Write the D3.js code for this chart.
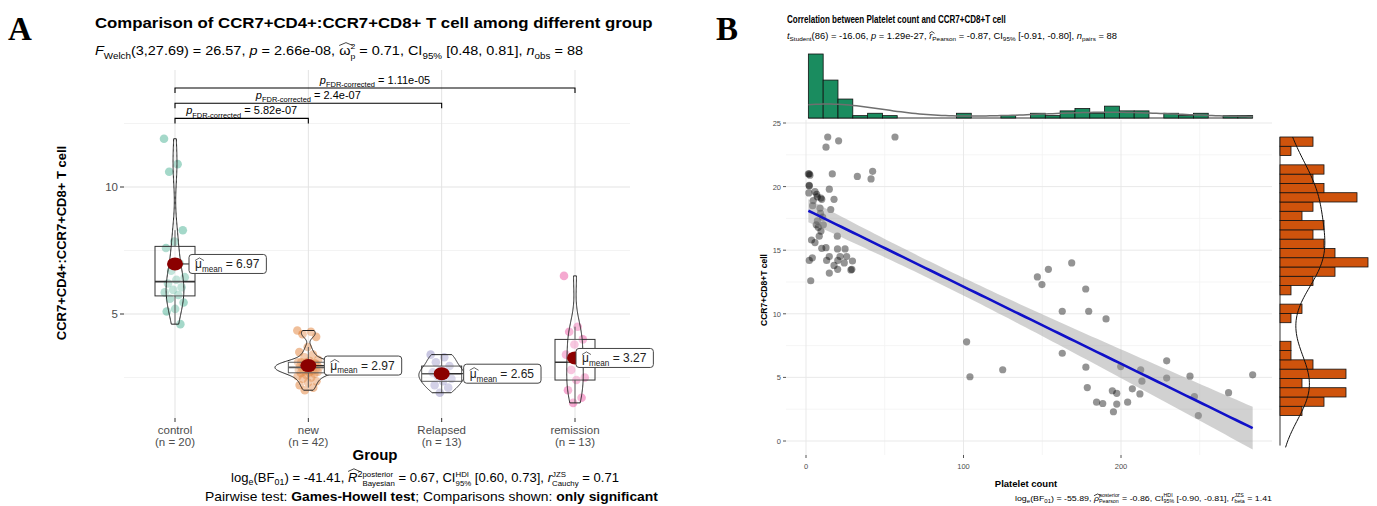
<!DOCTYPE html>
<html>
<head>
<meta charset="utf-8">
<script src="https://d3js.org/d3.v7.min.js"></script>
<style>
  body { margin: 0; background: #fff; }
  svg { display: block; font-family: "Liberation Sans", Arial, sans-serif; }
</style>
</head>
<body>
<svg id="chart"></svg>
<script>
// ---------- panel A: ratio per group ----------
const groups = ["control", "new", "Relapsed", "remission"];
const controlVals = [11.9, 10.9, 10.6, 8.3, 7.85, 7.6, 7.0, 6.7, 6.45, 6.35, 6.2, 6.05, 5.95, 5.85, 5.75, 5.6, 5.45, 5.2, 5.1, 4.6];
const newVals = [4.35, 4.3, 4.2, 4.1, 3.7, 3.5, 3.4, 3.3, 3.2, 3.15, 3.1, 3.06, 3.1, 3.1, 3.05, 3.0, 3.0, 2.98, 2.95, 2.92, 2.9,
  2.9, 2.88, 2.85, 2.82, 2.8, 2.8, 2.78, 2.75, 2.72, 2.7, 2.68, 2.65, 2.6, 2.55, 2.5, 2.45, 2.35, 2.3, 2.2, 2.1, 2.0];
const relapsedVals = [3.4, 3.3, 3.1, 2.95, 2.8, 2.7, 2.65, 2.55, 2.45, 2.35, 2.2, 2.1, 1.9];
const remissionVals = [6.5, 4.5, 4.3, 4.0, 3.8, 3.4, 3.1, 2.8, 2.5, 2.4, 2.0, 1.7, 1.5];
const groupColors = ["#1b9e77", "#d95f02", "#7570b3", "#e7298a"];
const pairwise = [
  { a: "control", b: "new", p: "5.82e-07" },
  { a: "control", b: "Relapsed", p: "2.4e-07" },
  { a: "control", b: "remission", p: "1.11e-05" }
];
const yTicksA = [5, 10];

// ---------- panel B: platelet count vs CCR7+CD8+ T cell ----------
const plateletCount = [13.8, 12.7, 20.7, 56.5, 2.1, 1.5, 2.5, 16.7, 32.6, 42.3, 41.3, 2.1, 2.0, 14.8, 1.8, 5.7, 7.2, 10.0, 4.6, 17.8,
  6.8, 9.5, 8.9, 15.7, 4.2, 10.6, 7.2, 9.2, 11.0, 7.8, 6.5, 9.5, 8.4, 19.9, 5.7, 3.5, 10.0, 12.7, 20.0, 24.8,
  14.8, 21.6, 25.8, 2.1, 13.1, 20.2, 17.8, 24.3, 29.5, 4.0, 29.1, 28.5, 20.1, 14.8, 3.0,
  168.7, 153.9, 146.9, 149.8, 177.6, 162.7, 179.5, 190.5, 102, 162.7, 124.9, 104.1, 177.7, 229, 199.8, 212.5, 213.3,
  229, 243.8, 283.6, 178.6, 194.5, 197.3, 207.2, 212, 184.5, 188.4, 197.3, 204.2, 195.2, 246.6, 268.3, 249.1];
const ccr7cd8 = [23.9, 23.1, 23.6, 23.9, 21.0, 21.0, 20.9, 21.0, 20.8, 21.2, 20.6, 20.05, 20.1, 19.8, 19.5, 19.6, 19.2, 19.0, 18.9, 19.0,
  19.4, 19.1, 18.3, 18.2, 18.5, 17.6, 17.3, 17.9, 17.0, 16.8, 17.0, 16.5, 16.1, 16.1, 15.6, 15.8, 15.15, 15.2, 15.1, 15.1,
  14.5, 14.5, 14.5, 14.2, 14.2, 14.2, 13.8, 14.0, 14.15, 14.4, 13.5, 13.45, 13.5, 13.2, 12.6,
  14.0, 13.5, 12.9, 12.3, 11.95, 10.2, 10.2, 9.6, 7.8, 6.9, 5.6, 5.05, 5.8, 6.3, 5.85, 5.6, 4.7,
  4.95, 5.1, 5.2, 4.2, 3.95, 3.75, 4.1, 3.7, 3.05, 2.95, 2.9, 3.05, 2.3, 3.5, 3.8, 2.0];
const xTicksB = [0, 100, 200];
const yTicksB = [0, 5, 10, 15, 20, 25];

const svg = d3.select("#chart").attr("width", 1377).attr("height", 506);
const grey = "#4d4d4d";

// text with sub/superscripts, drawn piece by piece
const richText = (parent, parts, o) => {
  const size = o.size || 11;
  const g = parent.append("g").attr("fill", o.fill || "#000");
  let cx = 0;
  const piece = (t, x, dyEm, sc, p) => {
    const el = g.append("text").attr("x", x).attr("y", dyEm * size)
      .style("font-size", (size * sc) + "px")
      .style("font-style", p.it ? "italic" : null)
      .style("font-weight", (p.b || o.bold) ? "bold" : null)
      .text(t.replace(/ /g, "\u00a0"));
    return el.node().getComputedTextLength();
  };
  parts.forEach(p => {
    if (typeof p === "string") p = { t: p };
    if (p.stack) {
      const w1 = piece(p.stack[0], cx, -0.45, 0.6, {});
      const w2 = piece(p.stack[1], cx, 0.3, 0.6, {});
      cx += Math.max(w1, w2);
      return;
    }
    const sc = (p.sub || p.sup) ? 0.68 : 1;
    const dy = p.sub ? 0.28 : p.sup ? -0.42 : 0;
    const w = piece(p.t, cx, dy, sc, p);
    if (p.hat) {
      const hy = -size * p.hat;
      g.append("path")
        .attr("d", `M${cx},${hy + size * 0.12}L${cx + w / 2 + 1},${hy - size * 0.1}L${cx + w + 2},${hy + size * 0.12}`)
        .attr("fill", "none").attr("stroke", o.fill || "#000").attr("stroke-width", 0.7);
    }
    cx += w;
  });
  const sx = o.width ? o.width / cx : 1;
  const left = o.anchor === "middle" ? o.x - cx * sx / 2 : o.anchor === "end" ? o.x - cx * sx : o.x;
  g.attr("transform", `translate(${left},${o.y}) scale(${sx},1)`);
  return { g, width: cx * sx };
};

const bandwidth = vals => {
  const s = vals.slice().sort(d3.ascending);
  const iqr = d3.quantile(s, 0.75) - d3.quantile(s, 0.25);
  return 0.9 * Math.min(d3.deviation(s), iqr / 1.34) * Math.pow(s.length, -0.2);
};
const kde = (vals, lo, hi, n) => {
  const bw = bandwidth(vals);
  return d3.range(n + 1).map(k => {
    const v = lo + (hi - lo) * k / n;
    const d = d3.mean(vals, x => Math.exp(-0.5 * ((v - x) / bw) ** 2)) / (bw * Math.sqrt(2 * Math.PI));
    return [v, d];
  });
};

// panel letters
svg.append("text").attr("x", 8).attr("y", 40).text("A")
  .style("font-family", "'Liberation Serif', serif").style("font-weight", "bold").style("font-size", "33px");
svg.append("text").attr("x", 716).attr("y", 40).text("B")
  .style("font-family", "'Liberation Serif', serif").style("font-weight", "bold").style("font-size", "33px");

// =================== PANEL A ===================
const A = svg.append("g");
const panelA = { left: 124, right: 630, top: 70, bottom: 418 };
const xA = d3.scalePoint().domain(groups).range([175, 575]);
const yA = d3.scaleLinear().domain([0, 10]).range([441, 187]);
const groupVals = [controlVals, newVals, relapsedVals, remissionVals];

// grid
[2.5, 7.5, 12.5].forEach(v => A.append("line").attr("x1", panelA.left).attr("x2", panelA.right)
  .attr("y1", yA(v)).attr("y2", yA(v)).attr("stroke", "#f0f0f0").attr("stroke-width", 0.8));
yTicksA.forEach(v => A.append("line").attr("x1", panelA.left).attr("x2", panelA.right)
  .attr("y1", yA(v)).attr("y2", yA(v)).attr("stroke", "#e3e3e3").attr("stroke-width", 1));
groups.forEach(gr => A.append("line").attr("x1", xA(gr)).attr("x2", xA(gr))
  .attr("y1", panelA.top).attr("y2", panelA.bottom).attr("stroke", "#e3e3e3").attr("stroke-width", 1));

// axes
yTicksA.forEach(v => {
  A.append("line").attr("x1", panelA.left - 4).attr("x2", panelA.left).attr("y1", yA(v)).attr("y2", yA(v)).attr("stroke", "#333");
  A.append("text").attr("x", panelA.left - 6).attr("y", yA(v) + 4).attr("text-anchor", "end")
    .style("font-size", "11.5px").attr("fill", grey).text(v);
});
groups.forEach((gr, i) => {
  A.append("line").attr("x1", xA(gr)).attr("x2", xA(gr)).attr("y1", panelA.bottom).attr("y2", panelA.bottom + 4).attr("stroke", "#333");
  A.append("text").attr("x", xA(gr)).attr("y", 434).attr("text-anchor", "middle")
    .style("font-size", "11.5px").attr("fill", grey).text(gr);
  A.append("text").attr("x", xA(gr)).attr("y", 446).attr("text-anchor", "middle")
    .style("font-size", "11.5px").attr("fill", grey).text(`(n = ${groupVals[i].length})`);
});
A.append("text").attr("x", 375).attr("y", 460).attr("text-anchor", "middle")
  .style("font-size", "15px").style("font-weight", "bold").text("Group");
A.append("text").attr("transform", "translate(66,243) rotate(-90)").attr("text-anchor", "middle")
  .style("font-size", "13px").style("font-weight", "bold").text("CCR7+CD4+:CCR7+CD8+ T cell");

// jittered points
const jit = i => ((i * 0.618034) % 1 - 0.5) * 22;
groupVals.forEach((vals, gi) => {
  A.append("g").selectAll("circle").data(vals).join("circle")
    .attr("cx", (d, i) => xA(groups[gi]) + jit(i)).attr("cy", d => yA(d)).attr("r", 4.3)
    .attr("fill", groupColors[gi]).attr("fill-opacity", 0.4);
});

// boxplots
const boxW = xA.step() * 0.3;
groupVals.forEach((vals, gi) => {
  const s = vals.slice().sort(d3.ascending);
  const q1 = d3.quantile(s, 0.25), med = d3.quantile(s, 0.5), q3 = d3.quantile(s, 0.75);
  const iqr = q3 - q1;
  const lo = d3.min(s.filter(v => v >= q1 - 1.5 * iqr)), hi = d3.max(s.filter(v => v <= q3 + 1.5 * iqr));
  const cx = xA(groups[gi]);
  const bg = A.append("g").attr("stroke", "#333").attr("stroke-width", 1);
  bg.append("line").attr("x1", cx).attr("x2", cx).attr("y1", yA(hi)).attr("y2", yA(q3));
  bg.append("line").attr("x1", cx).attr("x2", cx).attr("y1", yA(q1)).attr("y2", yA(lo));
  bg.append("rect").attr("x", cx - boxW / 2).attr("width", boxW).attr("y", yA(q3)).attr("height", yA(q1) - yA(q3))
    .attr("fill", "#fff").attr("fill-opacity", 0.2);
  bg.append("line").attr("x1", cx - boxW / 2).attr("x2", cx + boxW / 2).attr("y1", yA(med)).attr("y2", yA(med)).attr("stroke-width", 1.6);
});

// violins (scaled by area)
const dens = groupVals.map(vals => kde(vals, d3.min(vals), d3.max(vals), 150));
const maxDens = d3.max(dens, d => d3.max(d, e => e[1]));
const halfW = d3.scaleLinear().domain([0, maxDens]).range([0, xA.step() * 0.25]);
dens.forEach((dd, gi) => {
  const cx = xA(groups[gi]);
  const area = d3.area().y(d => yA(d[0])).x0(d => cx - halfW(d[1])).x1(d => cx + halfW(d[1]));
  A.append("path").attr("d", area(dd)).attr("fill", "#fff").attr("fill-opacity", 0.2)
    .attr("stroke", "#222").attr("stroke-width", 1);
});

// means with labels
const labelDx = [14, 16, 22, 1];
groupVals.forEach((vals, gi) => {
  const m = d3.mean(vals);
  const cx = xA(groups[gi]), cy = yA(m);
  const lx = cx + labelDx[gi];
  A.append("line").attr("x1", cx).attr("x2", lx).attr("y1", cy).attr("y2", cy).attr("stroke", "#222").attr("stroke-width", 1);
  A.append("ellipse").attr("cx", cx).attr("cy", cy).attr("rx", 8).attr("ry", 6.5).attr("fill", "#8b0000");
  const lg = A.append("g");
  const rect = lg.append("rect");
  const t = richText(lg, [{ t: "μ", hat: 0.78 }, { t: "mean", sub: true }, ` = ${d3.format(".2f")(m)}`],
    { x: lx + 6, y: cy + 4.5, size: 12, fill: "#222" });
  rect.attr("x", lx).attr("y", cy - 9.5).attr("width", t.width + 13).attr("height", 19).attr("rx", 3)
    .attr("fill", "#fff").attr("stroke", "#444").attr("stroke-width", 1);
});

// significance brackets
const topVal = d3.max(groupVals, v => d3.max(v));
pairwise.forEach((pw, i) => {
  const yy = yA(topVal + 0.8 + i * 0.6);
  const x1 = xA(pw.a), x2 = xA(pw.b);
  A.append("path").attr("d", `M${x1},${yy + 5}V${yy}H${x2}V${yy + 5}`)
    .attr("fill", "none").attr("stroke", "#000").attr("stroke-width", 1.1);
  richText(A, [{ t: "p", it: true }, { t: "FDR-corrected", sub: true }, ` = ${pw.p}`],
    { x: (x1 + x2) / 2, y: yy - 4, size: 11, anchor: "middle" });
});

// titles and captions
richText(A, ["Comparison of CCR7+CD4+:CCR7+CD8+ T cell among different group"],
  { x: 95, y: 28, size: 15, bold: true, width: 558 });
richText(A, [{ t: "F", it: true }, { t: "Welch", sub: true }, "(3,27.69) = 26.57, ", { t: "p", it: true }, " = 2.66e-08, ",
  { t: "ω", hat: 0.85 }, { stack: ["2", "p"] }, " = 0.71, CI", { t: "95%", sub: true }, " [0.48, 0.81], ",
  { t: "n", it: true }, { t: "obs", sub: true }, " = 88"], { x: 95, y: 55, size: 13, width: 488 });
richText(A, ["log", { t: "e", sub: true }, "(BF", { t: "01", sub: true }, ") = -41.41, ", { t: "R", it: true, hat: 1.0 },
  { t: "2", sup: true }, { stack: ["posterior", "Bayesian"] }, " = 0.67, CI", { stack: ["HDI", "95%"] }, " [0.60, 0.73], ",
  { t: "r", it: true }, { stack: ["JZS", "Cauchy"] }, " = 0.71"], { x: 231, y: 482, size: 12, width: 388 });
richText(A, ["Pairwise test: ", { t: "Games-Howell test", b: true }, "; Comparisons shown: ", { t: "only significant", b: true }],
  { x: 205, y: 501, size: 12, width: 453 });

// =================== PANEL B ===================
const B = svg.append("g");
const panelB = { left: 786, right: 1272, top: 120, bottom: 455 };
const xB = d3.scaleLinear().domain([0, 200]).range([806, 1121]);
const yB = d3.scaleLinear().domain([0, 25]).range([441, 123]);

[50, 150, 250].forEach(v => B.append("line").attr("x1", xB(v)).attr("x2", xB(v)).attr("y1", panelB.top).attr("y2", panelB.bottom)
  .attr("stroke", "#f2f2f2").attr("stroke-width", 0.8));
[2.5, 7.5, 12.5, 17.5, 22.5].forEach(v => B.append("line").attr("x1", panelB.left).attr("x2", panelB.right)
  .attr("y1", yB(v)).attr("y2", yB(v)).attr("stroke", "#f2f2f2").attr("stroke-width", 0.8));
xTicksB.forEach(v => B.append("line").attr("x1", xB(v)).attr("x2", xB(v)).attr("y1", panelB.top).attr("y2", panelB.bottom)
  .attr("stroke", "#e6e6e6").attr("stroke-width", 0.9));
yTicksB.forEach(v => B.append("line").attr("x1", panelB.left).attr("x2", panelB.right)
  .attr("y1", yB(v)).attr("y2", yB(v)).attr("stroke", "#e6e6e6").attr("stroke-width", 0.9));

yTicksB.forEach(v => {
  B.append("line").attr("x1", panelB.left - 3).attr("x2", panelB.left).attr("y1", yB(v)).attr("y2", yB(v)).attr("stroke", "#555");
  B.append("text").attr("x", panelB.left - 5).attr("y", yB(v) + 3).attr("text-anchor", "end")
    .style("font-size", "7.5px").attr("fill", grey).text(v);
});
xTicksB.forEach(v => {
  B.append("line").attr("x1", xB(v)).attr("x2", xB(v)).attr("y1", panelB.bottom).attr("y2", panelB.bottom + 3).attr("stroke", "#555");
  B.append("text").attr("x", xB(v)).attr("y", 469).attr("text-anchor", "middle")
    .style("font-size", "7.5px").attr("fill", grey).text(v);
});
B.append("text").attr("x", 1026).attr("y", 487).attr("text-anchor", "middle")
  .style("font-size", "9.5px").style("font-weight", "bold").text("Platelet count");
B.append("text").attr("transform", "translate(767,290) rotate(-90)").attr("text-anchor", "middle")
  .style("font-size", "8.5px").style("font-weight", "bold").text("CCR7+CD8+T cell");

// points
const pts = plateletCount.map((x, i) => [x, ccr7cd8[i]]);
B.append("g").selectAll("circle").data(pts).join("circle")
  .attr("cx", d => xB(d[0])).attr("cy", d => yB(d[1])).attr("r", 3.6)
  .attr("fill", "#000").attr("fill-opacity", 0.42);

// linear fit with 95% band
const n = pts.length;
const mx = d3.mean(plateletCount), my = d3.mean(ccr7cd8);
const sxx = d3.sum(plateletCount, x => (x - mx) ** 2);
const sxy = d3.sum(pts, d => (d[0] - mx) * (d[1] - my));
const slope = sxy / sxx, icpt = my - slope * mx;
const s2 = d3.sum(pts, d => (d[1] - icpt - slope * d[0]) ** 2) / (n - 2);
const tCrit = 1.9879;
const xMin = d3.min(plateletCount), xMax = d3.max(plateletCount);
const fit = d3.range(81).map(k => {
  const x = xMin + (xMax - xMin) * k / 80;
  const se = Math.sqrt(s2 * (1 / n + (x - mx) ** 2 / sxx));
  const y = icpt + slope * x;
  return { x, y, lo: y - tCrit * se, hi: y + tCrit * se };
});
B.append("path").attr("d", d3.area().x(d => xB(d.x)).y0(d => yB(d.lo)).y1(d => yB(d.hi))(fit))
  .attr("fill", "#999").attr("fill-opacity", 0.45);
B.append("path").attr("d", d3.line().x(d => xB(d.x)).y(d => yB(d.y))(fit))
  .attr("fill", "none").attr("stroke", "#1010c8").attr("stroke-width", 2.6);

// top marginal histogram
const nb = 30;
const wX = (xMax - xMin) / nb;
const binsX = d3.bin().domain([xMin, xMax]).thresholds(d3.range(1, nb).map(i => xMin + i * wX))(plateletCount);
const hTop = d3.scaleLinear().domain([0, d3.max(binsX, b => b.length)]).range([118, 54]);
B.append("line").attr("x1", xB(xMin)).attr("x2", xB(xMax)).attr("y1", 118).attr("y2", 118).attr("stroke", "#333").attr("stroke-width", 1);
B.append("g").selectAll("rect").data(binsX.filter(b => b.length)).join("rect")
  .attr("x", b => xB(b.x0)).attr("width", b => xB(b.x1) - xB(b.x0)).attr("y", b => hTop(b.length))
  .attr("height", b => 118 - hTop(b.length)).attr("fill", "#1a8c5f").attr("stroke", "#111").attr("stroke-width", 0.8);
const dX = kde(plateletCount, xMin, xMax, 120);
B.append("path").attr("d", d3.line().x(d => xB(d[0])).y(d => hTop(d[1] * n * wX))(dX))
  .attr("fill", "none").attr("stroke", "#6f6f6f").attr("stroke-width", 1.5);

// right marginal histogram
const yMin = d3.min(ccr7cd8), yMax = d3.max(ccr7cd8);
const wY = (yMax - yMin) / nb;
const binsY = d3.bin().domain([yMin, yMax]).thresholds(d3.range(1, nb).map(i => yMin + i * wY))(ccr7cd8);
const hRight = d3.scaleLinear().domain([0, d3.max(binsY, b => b.length)]).range([1280, 1368]);
B.append("line").attr("x1", 1280).attr("x2", 1280).attr("y1", yB(yMax)).attr("y2", yB(yMin) + 30).attr("stroke", "#333").attr("stroke-width", 1);
B.append("g").selectAll("rect").data(binsY.filter(b => b.length)).join("rect")
  .attr("y", b => yB(b.x1)).attr("height", b => yB(b.x0) - yB(b.x1)).attr("x", 1280)
  .attr("width", b => hRight(b.length) - 1280).attr("fill", "#cf530c").attr("stroke", "#111").attr("stroke-width", 0.8);
const dY = kde(ccr7cd8, yMin - 2.5, yMax, 120);
B.append("path").attr("d", d3.line().y(d => yB(d[0])).x(d => hRight(d[1] * n * wY))(dY))
  .attr("fill", "none").attr("stroke", "#111").attr("stroke-width", 1);

// titles
richText(B, ["Correlation between Platelet count and CCR7+CD8+T cell"], { x: 787, y: 23, size: 10.5, bold: true, width: 219 });
richText(B, [{ t: "t", it: true }, { t: "Student", sub: true }, "(86) = -16.06, ", { t: "p", it: true }, " = 1.29e-27, ",
  { t: "r", it: true, hat: 0.78 }, { t: "Pearson", sub: true }, " = -0.87, CI", { t: "95%", sub: true }, " [-0.91, -0.80], ",
  { t: "n", it: true }, { t: "pairs", sub: true }, " = 88"], { x: 787, y: 39, size: 8.5, width: 330 });
richText(B, ["log", { t: "e", sub: true }, "(BF", { t: "01", sub: true }, ") = -55.89, ", { t: "ρ", it: true, hat: 0.78 },
  { stack: ["posterior", "Pearson"] }, " = -0.86, CI", { stack: ["HDI", "95%"] }, " [-0.90, -0.81], ",
  { t: "r", it: true }, { stack: ["JZS", "beta"] }, " = 1.41"], { x: 1015, y: 501, size: 8, width: 257 });
</script>
</body>
</html>
